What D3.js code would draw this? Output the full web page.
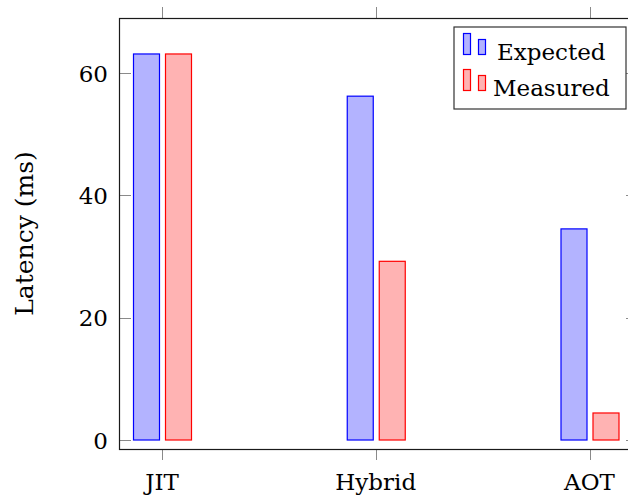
<!DOCTYPE html>
<html>
<head>
<meta charset="utf-8">
<script src="https://cdn.jsdelivr.net/npm/d3@7"></script>
<style>
  body { margin: 0; background: #fff; }
  text { font-family: "DejaVu Serif", serif; fill: #000; }
</style>
</head>
<body>
<svg id="chart"></svg>
<script>
var width = 628,
    height = 498;

var categories = ["JIT", "Hybrid", "AOT"];
var expected = [63.2, 56.3, 34.6];
var measured = [63.2, 29.3, 4.5];
var yTicks = [0, 20, 40, 60];
var seriesNames = ["Expected", "Measured"];

var box = {left: 120, right: 637, top: 18, bottom: 449};

var svg = d3.select("#chart")
    .attr("width", width)
    .attr("height", height);

var x = d3.scalePoint()
    .domain(categories)
    .range([162, 589.5]);

var y = d3.scaleLinear()
    .domain([-1.47, 69])
    .range([box.bottom, box.top]);

var barW = 27;
var fontSize = 23;

// bars
var series = [
    {name: seriesNames[0], values: expected, off: -29, fill: "#b3b3ff", stroke: "#0000ff"},
    {name: seriesNames[1], values: measured, off: 3, fill: "#ffb3b3", stroke: "#ff0000"}
];

series.forEach(function(s){
    svg.append("g").selectAll("rect")
        .data(s.values)
        .enter().append("rect")
        .attr("x", function(d, i) { return x(categories[i]) + s.off + 0.5; })
        .attr("y", function(d) { return y(d) + 0.5; })
        .attr("width", barW - 1)
        .attr("height", function(d) { return y(0) - y(d) - 0.5; })
        .style("fill", s.fill)
        .style("stroke", s.stroke)
        .style("stroke-width", 1.2);
});

// ticks
var tickColor = "#8a8a8a";
var g = svg.append("g");
yTicks.forEach(function(t){
    var ty = Math.round(y(t)) + 0.5;
    g.append("line").attr("x1", box.left).attr("x2", box.left + 11)
        .attr("y1", ty).attr("y2", ty).style("stroke", tickColor);
    g.append("line").attr("x1", box.right - 11).attr("x2", box.right)
        .attr("y1", ty).attr("y2", ty).style("stroke", tickColor);
    g.append("text")
        .attr("x", box.left - 12)
        .attr("y", y(t) + 8.5)
        .attr("text-anchor", "end")
        .style("font-size", fontSize + "px")
        .text(t);
});
categories.forEach(function(c){
    var tx = Math.round(x(c)) + 0.5;
    g.append("line").attr("x1", tx).attr("x2", tx)
        .attr("y1", box.bottom).attr("y2", box.bottom + 11).style("stroke", tickColor);
    g.append("line").attr("x1", tx).attr("x2", tx)
        .attr("y1", box.top - 11).attr("y2", box.top).style("stroke", tickColor);
    g.append("text")
        .attr("x", x(c))
        .attr("y", 490)
        .attr("text-anchor", "middle")
        .style("font-size", fontSize + "px")
        .text(c);
});

// axis box
svg.append("rect")
    .attr("x", box.left - 0.5)
    .attr("y", box.top + 0.5)
    .attr("width", box.right - box.left)
    .attr("height", box.bottom - box.top)
    .style("fill", "none")
    .style("stroke", "#1a1a1a")
    .style("stroke-width", 1.2);

// y label
svg.append("text")
    .attr("transform", "translate(33," + ((box.top + box.bottom) / 2) + ") rotate(-90)")
    .attr("text-anchor", "middle")
    .style("font-size", "25px")
    .text("Latency (ms)");

// legend
var legend = svg.append("g");
legend.append("rect")
    .attr("x", 454).attr("y", 27)
    .attr("width", 172).attr("height", 82)
    .style("fill", "#fff")
    .style("stroke", "#333")
    .style("stroke-width", 1.2);

series.forEach(function(s, i){
    var base = 36 * i;
    legend.append("rect")
        .attr("x", 463.5).attr("y", 33.5 + base)
        .attr("width", 7).attr("height", 21)
        .style("fill", s.fill).style("stroke", s.stroke).style("stroke-width", 1.2);
    legend.append("rect")
        .attr("x", 478.5).attr("y", 39.5 + base)
        .attr("width", 7).attr("height", 15)
        .style("fill", s.fill).style("stroke", s.stroke).style("stroke-width", 1.2);
    legend.append("text")
        .attr("x", i === 0 ? 497 : 493)
        .attr("y", 60 + base)
        .style("font-size", fontSize + "px")
        .text(s.name);
});
</script>
</body>
</html>
